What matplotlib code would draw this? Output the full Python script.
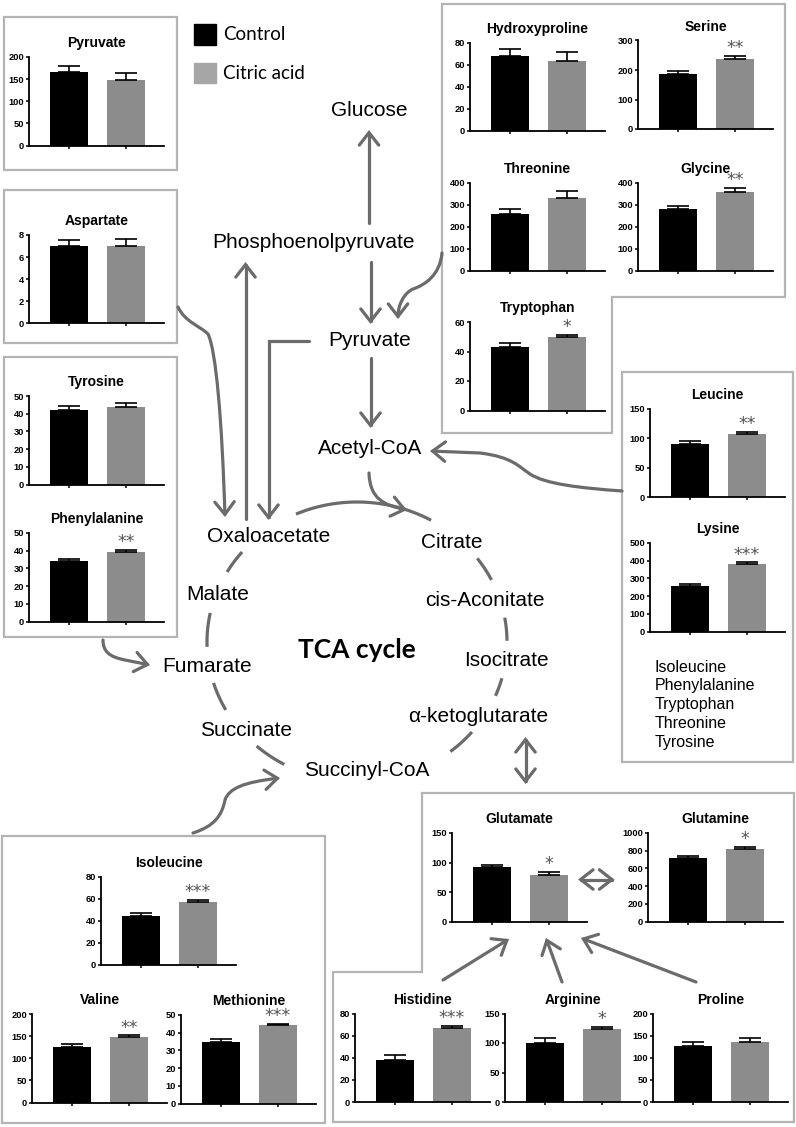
import numpy as np
import matplotlib
matplotlib.use('Agg')
import matplotlib.pyplot as plt
from matplotlib.patches import Rectangle, Polygon, FancyArrowPatch, ArrowStyle
from matplotlib.path import Path

plt.rcParams['font.family'] = ['Liberation Sans', 'DejaVu Sans']

# ---- data: relative levels, mean and SEM per group ----
groups = ['Control', 'Citric acid']
metabolites = ['Pyruvate', 'Aspartate', 'Tyrosine', 'Phenylalanine',
               'Hydroxyproline', 'Serine', 'Threonine', 'Glycine', 'Tryptophan',
               'Leucine', 'Lysine', 'Isoleucine', 'Valine', 'Methionine',
               'Glutamate', 'Glutamine', 'Histidine', 'Arginine', 'Proline']
control_mean = [167, 7.0, 42.3, 34.2, 68, 188, 257, 278, 43, 90, 258, 44, 125, 35,
                92, 715, 38, 100, 127]
control_sem = [12, 0.55, 1.9, 1.2, 6.5, 10, 24, 14, 2.5, 5.5, 11, 3, 7, 1.3,
               4.5, 28, 4.5, 9, 9]
citric_mean = [148, 7.05, 43.7, 39.5, 63, 238, 332, 357, 49.8, 107, 380, 57.4, 149, 44.3,
               79.5, 815, 67, 123.5, 136]
citric_sem = [16, 0.55, 2.2, 0.8, 8, 10, 30, 18, 1.5, 3.5, 11, 1.8, 2.5, 0.8,
              4, 25, 1.8, 4, 8]
signif = ['', '', '', '**', '', '**', '', '**', '*', '**', '***', '***', '**', '***',
          '*', '*', '***', '*', '']
y_max = [200, 8, 50, 50, 80, 300, 400, 400, 60, 150, 500, 80, 200, 50, 150, 1000, 80, 150, 200]
y_step = [50, 2, 10, 10, 20, 100, 100, 100, 20, 50, 100, 20, 50, 10, 50, 200, 20, 50, 50]
other_amino_acids = ['Isoleucine', 'Phenylalanine', 'Tryptophan', 'Threonine', 'Tyrosine']

# ---- layout (pixels, origin top-left) ----
W, H = 796, 1127
panel_xy = {
    'Pyruvate': (29, 57), 'Aspartate': (29, 235), 'Tyrosine': (29, 396),
    'Phenylalanine': (29, 533), 'Hydroxyproline': (470, 42.5), 'Serine': (638, 40.5),
    'Threonine': (470, 182.5), 'Glycine': (638, 182.5), 'Tryptophan': (470, 322),
    'Leucine': (650, 408.5), 'Lysine': (650, 543), 'Isoleucine': (101, 876.5),
    'Valine': (32, 1014), 'Methionine': (181, 1015), 'Glutamate': (452, 833),
    'Glutamine': (648, 833), 'Histidine': (355, 1013.5), 'Arginine': (505, 1013.5),
    'Proline': (653, 1013.5)}
PW, PH = 135, 88.5
ARROW = '#6b6b6b'
BOX = '#b4b4b4'
BLACK, GREY = '#000000', '#8c8c8c'

fig = plt.figure(figsize=(W / 100, H / 100), dpi=100)
ov = fig.add_axes([0, 0, 1, 1])
ov.set_xlim(0, W)
ov.set_ylim(H, 0)
ov.set_axis_off()

# boxes around the bar chart groups
for x0, y0, x1, y1 in [(4, 17, 177, 170), (4, 190, 177, 343), (4, 357, 177, 637),
                       (622, 372, 793, 762), (2, 836, 325, 1123)]:
    ov.add_patch(Rectangle((x0, y0), x1 - x0, y1 - y0, fill=False, ec=BOX, lw=1.6))
ov.add_patch(Polygon([(442, 3.5), (785, 3.5), (785, 297), (612, 297), (612, 433), (442, 433)],
                     closed=True, fill=False, ec=BOX, lw=1.6))
ov.add_patch(Polygon([(422, 793), (794, 793), (794, 1122), (333, 1122), (333, 972), (422, 972)],
                     closed=True, fill=False, ec=BOX, lw=1.6))

# legend
ov.add_patch(Rectangle((194, 24), 22, 21, color=BLACK))
ov.add_patch(Rectangle((194, 63), 22, 20, color='#a6a6a6'))
ov.text(223, 34.5, groups[0], fontsize=13.5, family='Lato', va='center')
ov.text(223, 73.5, groups[1], fontsize=13.5, family='Lato', va='center')

# pathway labels
labels = [('Glucose', 369, 110), ('Phosphoenolpyruvate', 314, 242), ('Pyruvate', 370, 341),
          ('Acetyl-CoA', 370, 449), ('Oxaloacetate', 269, 537), ('Citrate', 452, 543),
          ('cis-Aconitate', 485, 600), ('Malate', 218, 594), ('Isocitrate', 506, 661),
          ('Fumarate', 207, 667), ('α-ketoglutarate', 478, 716), ('Succinate', 246, 730),
          ('Succinyl-CoA', 367, 771)]
for s, x, y in labels:
    ov.text(x, y, s, fontsize=15, ha='center', va='center')
ov.text(357, 650, 'TCA cycle', fontsize=19, family='Lato', fontweight='bold',
        ha='center', va='center')
for i, s in enumerate(other_amino_acids):
    ov.text(655, 667 + i * 18.8, s, fontsize=11.5, va='center')

# TCA cycle ring segments (ellipse)
cx, cy, ea, eb = 357, 642, 150, 140
for t0, t1 in [(-150, -140), (178, 192), (151, 163), (119, 132), (40, 51.5),
               (15, 22.6), (-10, -0.5), (-36.7, -26.3), (-114, -60.4)]:
    t = np.radians(np.linspace(t0, t1, 30))
    ov.plot(cx + ea * np.cos(t), cy + eb * np.sin(t), color=ARROW, lw=2.3,
            solid_capstyle='butt')


def arrow(pts, codes=None, style='->'):
    if codes is None:
        codes = [Path.MOVETO] + [Path.LINETO] * (len(pts) - 1)
    p = FancyArrowPatch(path=Path(pts, codes),
                        arrowstyle=ArrowStyle(style, head_length=0.45, head_width=0.35),
                        mutation_scale=20, lw=2.3, color=ARROW, joinstyle='miter')
    ov.add_patch(p)


C4 = Path.CURVE4
arrow([(369, 223), (369, 130)])
arrow([(245.5, 519), (245.5, 262)])
arrow([(370.5, 262), (370.5, 324)])
arrow([(370.5, 358), (370.5, 428)])
arrow([(309, 341), (268.5, 341), (268.5, 520)])
arrow([(178, 307), (185, 322), (200, 326), (208, 334), (216, 350), (222, 420), (225, 517)],
      [Path.MOVETO, C4, C4, C4, C4, C4, C4])
arrow([(442, 253), (440, 275), (425, 285), (413, 289), (404, 293), (398, 305), (398, 319)],
      [Path.MOVETO, C4, C4, C4, C4, C4, C4])
arrow([(369, 473), (370, 500), (385, 505), (407, 510)], [Path.MOVETO, C4, C4, C4])
arrow([(622, 491), (580, 488), (545, 484), (530, 474), (518, 466), (512, 457), (480, 453),
       (430, 451)], [Path.MOVETO, C4, C4, C4, C4, C4, C4, Path.LINETO])
arrow([(103, 640), (103, 652), (110, 657), (125, 660), (150, 665)],
      [Path.MOVETO, C4, C4, C4, Path.LINETO])
arrow([(193, 833), (215, 826), (222, 815), (225, 800), (229, 788), (245, 782), (280, 778)],
      [Path.MOVETO, C4, C4, C4, C4, C4, C4])
arrow([(525.5, 737), (525.5, 784)], style='<->')
arrow([(578, 879.5), (614.5, 879.5)], style='<->')
arrow([(443, 980), (509, 939)])
arrow([(562, 982), (546, 938)])
arrow([(696, 982), (581, 938)])

# bar charts
for i, name in enumerate(metabolites):
    x, y = panel_xy[name]
    ax = fig.add_axes([x / W, 1 - (y + PH) / H, PW / W, PH / H])
    ax.patch.set_alpha(0)
    means = [control_mean[i], citric_mean[i]]
    sems = [control_sem[i], citric_sem[i]]
    ax.bar([0, 1], means, width=0.684, color=[BLACK, GREY], zorder=2)
    ax.errorbar([0, 1], means, yerr=[[0, 0], sems], fmt='none', ecolor='black',
                elinewidth=1.2, capsize=8, capthick=1.2, zorder=3)
    ax.set_xlim(-40 / 57, 95 / 57)
    ax.set_ylim(0, y_max[i])
    ax.set_yticks(np.arange(0, y_max[i] + y_step[i] / 2, y_step[i]))
    ax.set_yticklabels([f'{v:g}' for v in ax.get_yticks()])
    ax.set_xticks([0, 1])
    ax.set_xticklabels([])
    for sp in ['top', 'right']:
        ax.spines[sp].set_visible(False)
    for sp in ['left', 'bottom']:
        ax.spines[sp].set_linewidth(1.3)
    ax.tick_params(length=2.5, width=1.1, pad=1)
    for lab in ax.get_yticklabels():
        lab.set_fontsize(6.7)
        lab.set_fontweight('bold')
    ax.annotate(name, xy=(0.5, 1), xycoords='axes fraction', xytext=(0, 10),
                textcoords='offset points', ha='center', va='center',
                fontsize=10, fontweight='bold')
    if signif[i]:
        ax.annotate(signif[i], xy=(1, citric_mean[i] + citric_sem[i]), xytext=(0, 2),
                    textcoords='offset points', ha='center', va='baseline',
                    fontsize=12.5, family='DejaVu Sans', color='#555555',
                    annotation_clip=False)

fig.savefig('out.png', dpi=100)
